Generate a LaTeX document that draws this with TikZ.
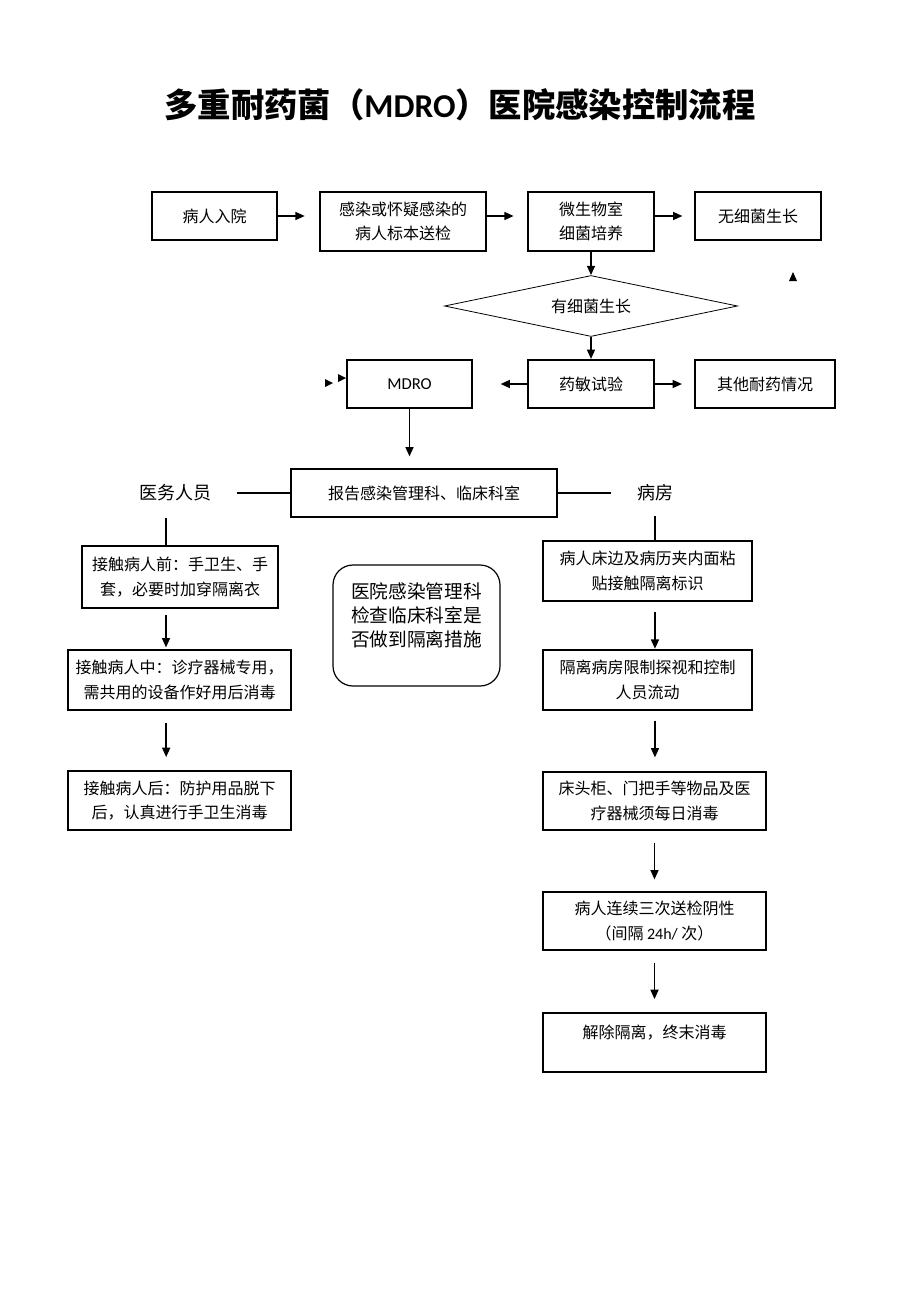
\documentclass[tikz,border=0pt]{standalone}
\usepackage{fontspec}
\setmainfont{Noto Sans CJK SC}
\newfontfamily\latin{Carlito}
\usetikzlibrary{arrows.meta, positioning, shapes.geometric}

\begin{document}
\begin{tikzpicture}[x=0.75pt,y=-0.75pt,>={Triangle[length=7pt,width=6pt]},line width=0.9pt,
  box/.style={draw, rectangle, align=center, inner sep=2pt, font=\fontsize{12}{18.5}\selectfont},
  heavy/.style={box, line width=1.6pt},
  decision/.style={draw, diamond, aspect=4.8, inner sep=0pt, line width=0.6pt, font=\fontsize{12}{18.5}\selectfont},
  note/.style={draw, rectangle, rounded corners=15pt, align=left, font=\fontsize{14}{18}\selectfont},
  side/.style={font=\fontsize{13.5}{16}\selectfont}]

  \useasboundingbox (0,0) rectangle (920,1302);

  \node (title) at (460,105) {\fontsize{25}{30}\selectfont\bfseries 多重耐药菌（{\latin MDRO}）医院感染控制流程};

  % first row
  \node[box, minimum width=93.75pt, minimum height=36pt] (admit) at (214.5,216) {病人入院};
  \node[box, minimum width=124.5pt, minimum height=44.25pt] (sample) at (403,221.5) {感染或怀疑感染的\\病人标本送检};
  \node[heavy, minimum width=94.5pt, minimum height=44.25pt] (culture) at (591,221.5) {微生物室\\细菌培养};
  \node[box, minimum width=94.5pt, minimum height=36pt] (nogrowth) at (758,216) {无细菌生长};

  \node[decision, minimum width=219.75pt, minimum height=45.75pt] (growth) at (591,306) {有细菌生长};

  % second row
  \node[box, minimum width=93.75pt, minimum height=36pt] (mdro) at (409.5,384) {\latin\fontsize{12.5}{15}\selectfont MDRO};
  \node[heavy, minimum width=94.5pt, minimum height=36pt] (ast) at (591,384) {药敏试验};
  \node[heavy, minimum width=105pt, minimum height=36pt] (other) at (765,384) {其他耐药情况};

  \node[box, minimum width=199.5pt, minimum height=36pt] (report) at (424,493) {报告感染管理科、临床科室};
  \node[side] (staff) at (175,493) {医务人员};
  \node[side] (ward) at (655,493) {病房};

  % staff side
  \node[heavy, minimum width=147pt, minimum height=46.5pt] (l1) at (180,577) {接触病人前：手卫生、手\\套，必要时加穿隔离衣};
  \node[box, minimum width=167.25pt, minimum height=45pt] (l2) at (179.5,680) {接触病人中：诊疗器械专用，\\需共用的设备作好用后消毒};
  \node[box, minimum width=167.25pt, minimum height=44.25pt] (l3) at (179.5,800.5) {接触病人后：防护用品脱下\\后，认真进行手卫生消毒};

  \node[note, minimum width=125.25pt, minimum height=90.75pt, text depth=17pt] (check) at (416.5,625.5) {医院感染管理科\\检查临床科室是\\否做到隔离措施};

  % ward side
  \node[box, minimum width=156.75pt, minimum height=45pt] (r1) at (647.5,571) {病人床边及病历夹内面粘\\贴接触隔离标识};
  \node[box, minimum width=156.75pt, minimum height=45pt] (r2) at (647.5,680) {隔离病房限制探视和控制\\人员流动};
  \node[box, minimum width=167.25pt, minimum height=43.5pt] (r3) at (654.5,801) {床头柜、门把手等物品及医\\疗器械须每日消毒};
  \node[box, minimum width=167.25pt, minimum height=43.5pt] (r4) at (654.5,921) {病人连续三次送检阴性\\（间隔 {\latin 24h/} 次）};
  \node[box, minimum width=167.25pt, minimum height=44.25pt, text depth=16pt] (r5) at (654.5,1042.5) {解除隔离，终末消毒};

  \path[->, line width=1.1pt]
    (admit.east) edge[shorten >=11pt] (admit.east -| sample.west)
    (admit.east -| sample.east) edge[shorten >=10pt] (admit.east -| culture.west)
    (admit.east -| culture.east) edge[shorten >=9pt] (admit.east -| nogrowth.west)
    (culture.south) edge (growth.north)
    (growth.south) edge (ast.north)
    (ast.west) edge[shorten >=21pt] (mdro.east)
    (ast.east) edge[shorten >=9pt] (other.west)
    (mdro.south) edge[shorten >=9pt] (mdro.south |- report.north)

    ([xshift=-10.5pt]l1.south) edge[shorten <=4.5pt, shorten >=1.5pt] ([xshift=-10.5pt]l1.south |- l2.north)
    ([xshift=-10pt]l2.south) edge[shorten <=9pt, shorten >=10pt] ([xshift=-10pt]l2.south |- l3.north)

    ([xshift=5.6pt]r1.south) edge[shorten <=7.5pt, shorten >=0.5pt] ([xshift=5.6pt]r1.south |- r2.north)
    ([xshift=5.6pt]r2.south) edge[shorten <=7.5pt, shorten >=10.5pt] ([xshift=5.6pt]r2.south |- r3.north)
    (r3.south) edge[shorten <=9pt, shorten >=9pt] (r4.north)
    (r4.south) edge[shorten <=9pt, shorten >=10pt] (r5.north)
    ;

  \path[-]
    (staff.east) edge[shorten <=16pt] (report.west)
    (report.east) edge[shorten >=16pt] (ward.west)
    ([xshift=-6.75pt]staff.south) edge[shorten <=9pt] ([xshift=-6.75pt]staff.south |- l1.north)
    (ward.south) edge[shorten <=7.5pt] (ward.south |- r1.north)
    ;

  % stray arrow heads
  \fill (789,281) -- (797,281) -- (793,272) -- cycle;
  \fill (325,379) -- (333,383) -- (325,387) -- cycle;
  \fill (338,374) -- (346,378) -- (338,382) -- cycle;
\end{tikzpicture}
\end{document}
